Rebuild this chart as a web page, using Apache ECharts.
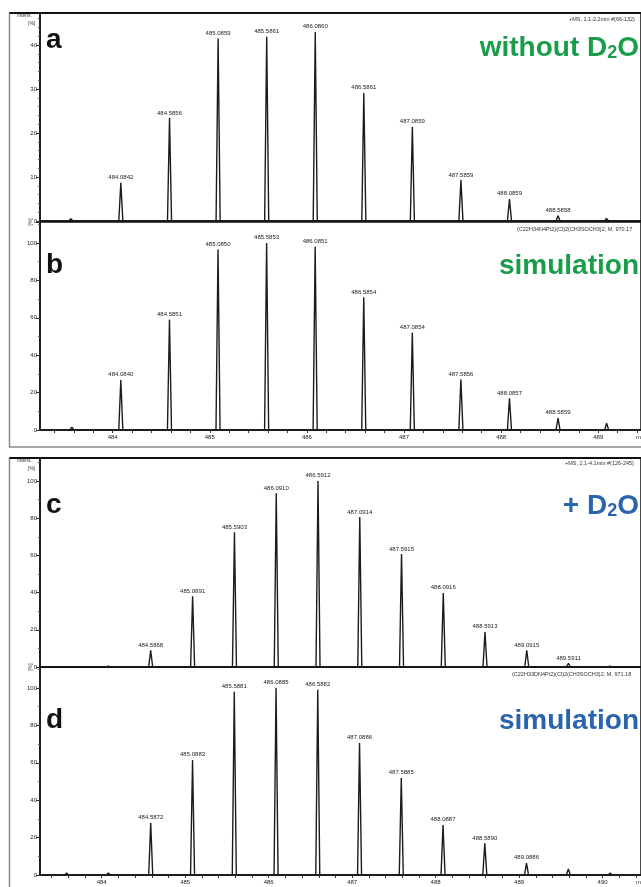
<!DOCTYPE html>
<html>
<head>
<meta charset="utf-8">
<script src="https://cdn.jsdelivr.net/npm/echarts@6/dist/echarts.min.js"></script>
<style>
  html, body { margin: 0; padding: 0; background: #fff; }
  #chart { width: 641px; height: 887px; }
</style>
</head>
<body>
<div id="chart"></div>
<script>
// ---- Isotope patterns: labelled peaks (m/z as printed, relative intensity %) ----
// a: measured, without D2O
const aMz  = ['484.0842', '484.5856', '485.0859', '485.5861', '486.0860', '486.5861', '487.0859', '487.5859', '488.0859', '488.5858'];
const aInt = [8.7, 23.4, 41.5, 41.9, 43.0, 29.1, 21.4, 9.3, 5.0, 1.2];
const aMinorMz  = [483.57, 489.085];
const aMinorInt = [0.5, 0.6];

// b: simulated pattern for the undeuterated ion
const bMz  = ['484.0840', '484.5851', '485.0850', '485.5853', '486.0851', '486.5854', '487.0854', '487.5856', '488.0857', '488.5859'];
const bInt = [26.7, 59.0, 96.5, 100.0, 98.0, 71.0, 52.0, 27.0, 17.0, 6.4];
const bMinorMz  = [483.58, 489.086];
const bMinorInt = [1.5, 3.6];

// c: measured, + D2O
const cMz  = ['484.5868', '485.0891', '485.5903', '486.0910', '486.5912', '487.0914', '487.5915', '488.0916', '488.5913', '489.0915', '489.5911'];
const cInt = [9.0, 38.0, 72.5, 93.5, 100.0, 80.6, 60.7, 39.8, 18.8, 9.0, 2.0];
const cMinorMz  = [484.08, 490.09];
const cMinorInt = [0.5, 0.5];

// d: simulated pattern for the deuterated ion
const dMz  = ['484.5872', '485.0883', '485.5881', '486.0885', '486.5882', '487.0886', '487.5885', '488.0887', '488.5890', '489.0886'];
const dInt = [27.8, 61.5, 97.9, 100.0, 99.0, 70.6, 51.9, 26.7, 17.0, 6.4];
const dMinorMz  = [483.58, 484.08, 489.59, 490.09];
const dMinorInt = [1.0, 1.0, 3.2, 1.0];

// axis tick labels
const xLabelsTop    = [484, 485, 486, 487, 488, 489];
const xLabelsBottom = [484, 485, 486, 487, 488, 489, 490];

// header strings
const headTop    = '+MS, 1.1-2.2min #(66-132)';
const formulaTop = '(C22H34N4Pt2)(Cl)2(CH3SOCH3)2, M, 970.17';
const headBot    = '+MS, 2.1-4.1min #(126-245)';
const formulaBot = '(C22H33DN4Pt2)(Cl)2(CH3SOCH3)2, M, 971.18';

const FONT = '"Liberation Sans", Arial, sans-serif';
const INK = '#1c1c1c';
const GREEN = '#1a9d4b';
const BLUE = '#2b64ae';

// x ranges of the two figures
const X1 = [483.252, 489.44];
const X2 = [483.261, 490.46];

function minorTicks(lo, hi) {
  const out = [];
  for (let k = Math.ceil(lo * 5); k <= Math.floor(hi * 5); k++) out.push(k / 5);
  return out;
}

// Each peak is drawn as a narrow triangle on the baseline
function peakData(mz, inten, minorMz, minorInt, hw) {
  const pts = [];
  mz.forEach((s, i) => pts.push({ m: Number(s), h: inten[i], lbl: s }));
  minorMz.forEach((m, i) => pts.push({ m: m, h: minorInt[i], lbl: null }));
  pts.sort((p, q) => p.m - q.m);
  const data = [];
  pts.forEach(p => {
    data.push([p.m - hw, 0]);
    if (p.lbl) {
      data.push({ value: [p.m, p.h], label: { show: true, formatter: p.lbl } });
    } else {
      data.push([p.m, p.h]);
    }
    data.push([p.m + hw, 0]);
  });
  return data;
}

function peakSeries(idx, data) {
  return {
    type: 'line',
    xAxisIndex: idx, yAxisIndex: idx,
    data: data,
    symbol: 'circle', symbolSize: 0.5, showSymbol: true,
    itemStyle: { color: INK },
    lineStyle: { color: INK, width: 1.4 },
    label: { show: false, position: 'top', distance: 2, fontSize: 6, color: '#222', fontFamily: FONT },
    silent: true,
    animation: false,
    z: 3
  };
}

function xAxisCfg(grid, range, labels) {
  const base = {
    gridIndex: grid, type: 'value', min: range[0], max: range[1],
    splitLine: { show: false },
    axisLine: { show: true, onZero: false, lineStyle: { color: '#111', width: 1.5 } }
  };
  if (!labels) {
    base.axisTick = { show: false };
    base.axisLabel = { show: false };
  } else {
    base.axisTick = { show: true, customValues: minorTicks(range[0], range[1]), length: 3, lineStyle: { color: '#333', width: 1 } };
    base.axisLabel = { show: true, customValues: labels, fontSize: 6, color: '#222', fontFamily: FONT, margin: 4 };
  }
  return base;
}

function yAxisCfg(grid, max, interval, minorSplit) {
  return {
    gridIndex: grid, type: 'value', min: 0, max: max, interval: interval,
    splitLine: { show: false },
    axisLine: { show: true, lineStyle: { color: '#111', width: 1.5 } },
    axisTick: { show: true, length: 4, lineStyle: { color: '#333' } },
    minorTick: { show: true, splitNumber: minorSplit, length: 2, lineStyle: { color: '#555' } },
    axisLabel: { fontSize: 6, color: '#222', fontFamily: FONT, margin: 3, showMaxLabel: false }
  };
}

function txt(x, y, text, opts) {
  return {
    type: 'text', silent: true, z: 10,
    style: Object.assign({
      x: x, y: y, text: text,
      font: '6px ' + FONT, fill: '#333',
      align: 'left', verticalAlign: 'middle',
      textAlign: 'left', textVerticalAlign: 'middle'
    }, opts || {})
  };
}

function bigText(x, y, parts, color) {
  return {
    type: 'text', silent: true, z: 10,
    style: {
      x: x, y: y,
      text: parts,
      fill: color,
      font: 'bold 28px ' + FONT,
      align: 'right', verticalAlign: 'middle',
      textAlign: 'right', textVerticalAlign: 'middle',
      rich: {
        m: { font: 'bold 28px ' + FONT, fill: color, lineHeight: 34, verticalAlign: 'bottom' },
        s: { font: 'bold 18px ' + FONT, fill: color, lineHeight: 20, verticalAlign: 'bottom' }
      }
    }
  };
}

function letter(x, y, ch) {
  return txt(x, y, ch, { font: 'bold 28px ' + FONT, fill: '#111' });
}

const option = {
  backgroundColor: '#ffffff',
  animation: false,
  grid: [
    { left: 40, top: 13,  right: -3, height: 208, show: true, borderColor: '#111', borderWidth: 1.5 },
    { left: 40, top: 222, right: -3, height: 208, show: true, borderColor: '#111', borderWidth: 1.5 },
    { left: 40, top: 458, right: -3, height: 209, show: true, borderColor: '#111', borderWidth: 1.5 },
    { left: 40, top: 667, right: -3, height: 208, show: true, borderColor: '#111', borderWidth: 1.5 }
  ],
  xAxis: [
    xAxisCfg(0, X1, null),
    xAxisCfg(1, X1, xLabelsTop),
    xAxisCfg(2, X2, null),
    xAxisCfg(3, X2, xLabelsBottom)
  ],
  yAxis: [
    yAxisCfg(0, 47.3, 10, 5),
    yAxisCfg(1, 111.2, 20, 2),
    yAxisCfg(2, 112.4, 20, 2),
    yAxisCfg(3, 111.2, 20, 2)
  ],
  series: [
    peakSeries(0, peakData(aMz, aInt, aMinorMz, aMinorInt, 0.021)),
    peakSeries(1, peakData(bMz, bInt, bMinorMz, bMinorInt, 0.021)),
    peakSeries(2, peakData(cMz, cInt, cMinorMz, cMinorInt, 0.024)),
    peakSeries(3, peakData(dMz, dInt, dMinorMz, dMinorInt, 0.024))
  ],
  graphic: [
    // outer frames
    { type: 'rect', silent: true, z: 0, shape: { x: 9.5, y: 13, width: 640, height: 434 },
      style: { fill: 'none', stroke: '#8a8a8a', lineWidth: 1.5 } },
    { type: 'line', silent: true, z: 1, shape: { x1: 9.5, y1: 13, x2: 641, y2: 13 },
      style: { stroke: '#111', lineWidth: 2 } },
    { type: 'rect', silent: true, z: 0, shape: { x: 9.5, y: 458, width: 640, height: 440 },
      style: { fill: 'none', stroke: '#8a8a8a', lineWidth: 1.5 } },
    { type: 'line', silent: true, z: 1, shape: { x1: 9.5, y1: 458, x2: 641, y2: 458 },
      style: { stroke: '#111', lineWidth: 2 } },

    // intensity captions
    txt(17, 16, 'Intens.', { font: '5px ' + FONT }),
    txt(28, 24, '[%]', { font: '5px ' + FONT }),
    txt(17, 461, 'Intens.', { font: '5px ' + FONT }),
    txt(28, 469, '[%]', { font: '5px ' + FONT }),
    Object.assign(txt(31, 222, '[%]', { font: '5px ' + FONT, align: 'center', textAlign: 'center' }), { rotation: Math.PI / 2, x: 0, y: 0, originX: 31, originY: 222 }),
    Object.assign(txt(31, 667, '[%]', { font: '5px ' + FONT, align: 'center', textAlign: 'center' }), { rotation: Math.PI / 2, x: 0, y: 0, originX: 31, originY: 667 }),

    // run headers and formulas
    txt(569, 19, headTop, { font: '5.5px ' + FONT }),
    txt(517, 229, formulaTop, { font: '5.5px ' + FONT }),
    txt(565, 463, headBot, { font: '5.5px ' + FONT }),
    txt(512, 674, formulaBot, { font: '5.5px ' + FONT }),

    // m/z axis captions
    txt(636, 437, 'm/z', { font: '6px ' + FONT }),
    txt(636, 882, 'm/z', { font: '6px ' + FONT }),

    // panel letters
    letter(46, 40, 'a'),
    letter(46, 265, 'b'),
    letter(46, 505, 'c'),
    letter(46, 720, 'd'),

    // panel titles
    bigText(639, 45, '{m|without D}{s|2}{m|O}', GREEN),
    bigText(639, 263, '{m|simulation}', GREEN),
    bigText(639, 503, '{m|+ D}{s|2}{m|O}', BLUE),
    bigText(639, 718, '{m|simulation}', BLUE)
  ]
};

const chart = echarts.init(document.getElementById('chart'), null, { renderer: 'canvas' });
chart.setOption(option);
</script>
</body>
</html>
